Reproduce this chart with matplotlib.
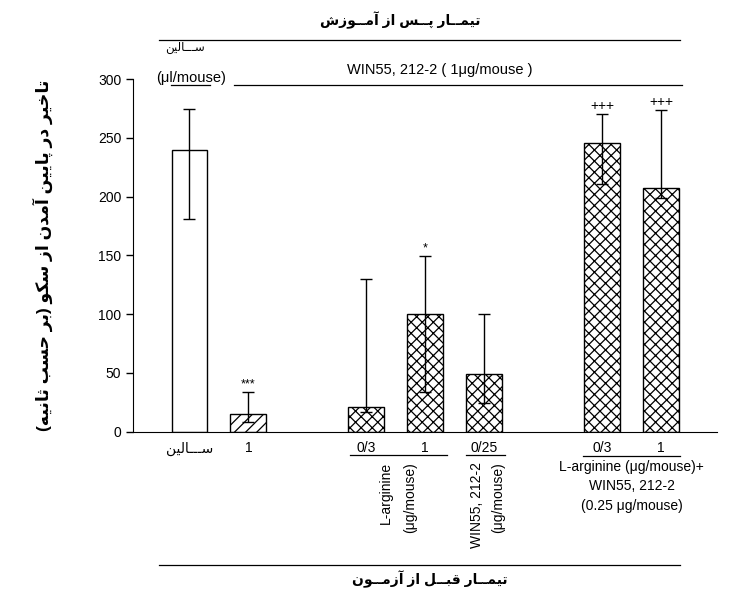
import matplotlib
matplotlib.use("Agg")
import matplotlib.pyplot as plt
import numpy as np

plt.rcParams['font.family'] = ['Liberation Sans', 'DejaVu Sans']
plt.rcParams['hatch.linewidth'] = 0.9

# Arabic-script presentation forms: isolated, final, initial, medial
FORMS = {
    '\u0627': ('\uFE8D', '\uFE8E'),
    '\u0622': ('\uFE81', '\uFE82'),
    '\u0628': ('\uFE8F', '\uFE90', '\uFE91', '\uFE92'),
    '\u067E': ('\uFB56', '\uFB57', '\uFB58', '\uFB59'),
    '\u062A': ('\uFE95', '\uFE96', '\uFE97', '\uFE98'),
    '\u062B': ('\uFE99', '\uFE9A', '\uFE9B', '\uFE9C'),
    '\u062D': ('\uFEA1', '\uFEA2', '\uFEA3', '\uFEA4'),
    '\u062E': ('\uFEA5', '\uFEA6', '\uFEA7', '\uFEA8'),
    '\u062F': ('\uFEA9', '\uFEAA'),
    '\u0631': ('\uFEAD', '\uFEAE'),
    '\u0632': ('\uFEAF', '\uFEB0'),
    '\u0633': ('\uFEB1', '\uFEB2', '\uFEB3', '\uFEB4'),
    '\u0634': ('\uFEB5', '\uFEB6', '\uFEB7', '\uFEB8'),
    '\u0642': ('\uFED5', '\uFED6', '\uFED7', '\uFED8'),
    '\u06A9': ('\uFB8E', '\uFB8F', '\uFB90', '\uFB91'),
    '\u0644': ('\uFEDD', '\uFEDE', '\uFEDF', '\uFEE0'),
    '\u0645': ('\uFEE1', '\uFEE2', '\uFEE3', '\uFEE4'),
    '\u0646': ('\uFEE5', '\uFEE6', '\uFEE7', '\uFEE8'),
    '\u0647': ('\uFEE9', '\uFEEA', '\uFEEB', '\uFEEC'),
    '\u0648': ('\uFEED', '\uFEEE'),
    '\u06CC': ('\uFBFC', '\uFBFD', '\uFBFE', '\uFBFF'),
    '\u0640': ('\u0640', '\u0640', '\u0640', '\u0640'),
}


def fa(text):
    # join letters and put them in visual (left-to-right) order
    out = []
    for i, c in enumerate(text):
        if c not in FORMS:
            out.append(c)
            continue
        prev = text[i - 1] if i > 0 else None
        nxt = text[i + 1] if i + 1 < len(text) else None
        jp = prev in FORMS and len(FORMS[prev]) == 4
        jn = len(FORMS[c]) == 4 and nxt in FORMS
        f = FORMS[c]
        if jp and jn:
            out.append(f[3])
        elif jp:
            out.append(f[1])
        elif jn:
            out.append(f[2])
        else:
            out.append(f[0])
    s = ''.join(reversed(out))
    return s.replace('(', '\0').replace(')', '(').replace('\0', ')')


title_top = "تیمــار پــس از آمــوزش"
title_bottom = "تیمــار قبــل از آزمــون"
saline = "ســـالین"
ylabel = "تاخیر در پایین آمدن از سکو (بر حسب ثانیه)"

positions = [1, 2, 4, 5, 6, 8, 9]
tick_labels = [fa(saline), '1', '0/3', '1', '0/25', '0/3', '1']
means = [240, 15, 21, 100, 49, 246, 207]
err_top = [274.5, 34, 130, 149.5, 100, 270, 273.5]
err_bottom = [181, 8, 17, 33.5, 24.7, 210.5, 198.5]
hatches = ['', '///', 'xxx', 'xxx', 'xxx', 'xxx', 'xxx']
signif = ['', '***', '', '*', '', '+++', '+++']
signif_size = [9, 9, 9, 9, 9, 10, 10]

means = np.array(means)
yerr = [means - np.array(err_bottom), np.array(err_top) - means]

fig = plt.figure(figsize=(7.4, 5.91), dpi=100)
ax = fig.add_axes([0.1797, 0.2695, 0.7892, 0.5968])

ax.bar(positions, means, width=0.61, color='white', edgecolor='black',
       linewidth=1.0, hatch=hatches, zorder=2)
ax.errorbar(positions, means, yerr=yerr, fmt='none', ecolor='black',
            elinewidth=1.0, capsize=4.3, capthick=1.0, zorder=3)
for x, top, s, fs in zip(positions, err_top, signif, signif_size):
    if s:
        ax.annotate(s, (x, top), xytext=(0, 1), textcoords='offset points',
                    ha='center', va='bottom', fontsize=fs)

ax.set_xlim(0.041, 9.95)
ax.set_ylim(0, 300)
ax.set_yticks([0, 50, 100, 150, 200, 250, 300])
ax.tick_params(axis='y', labelsize=10, length=5, width=1)
ax.set_xticks(positions, tick_labels)
ax.tick_params(axis='x', length=0, pad=7, labelsize=10)
ax.spines['top'].set_visible(False)
ax.spines['right'].set_visible(False)
ax.set_ylabel(fa(ylabel), fontsize=12.4, fontweight='bold', labelpad=32)

kw = dict(color='black', lw=0.9, clip_on=False)
# treatments after training (top)
ax.text(4.57, 350, fa(title_top), ha='center', va='center', fontsize=10,
        fontweight='bold')
ax.plot([0.48, 9.32], [333, 333], **kw)
ax.text(0.92, 326.5, fa(saline), ha='center', va='center', fontsize=8.5)
ax.text(1.02, 301, '(μl/mouse)', ha='center', va='center', fontsize=10.5)
ax.plot([0.69, 1.35], [295, 295], **kw)
ax.text(5.25, 307.5, 'WIN55, 212-2 ( 1μg/mouse )', ha='center', va='center',
        fontsize=10.5)
ax.plot([1.75, 9.36], [295, 295], **kw)

# treatments before test (bottom)
ax.plot([3.72, 5.37], [-20, -20], **kw)
ax.plot([5.69, 6.35], [-20, -20], **kw)
ax.plot([7.68, 9.32], [-21, -21], **kw)
ax.text(4.34, -26, 'L-arginine', rotation=90, ha='center', va='top', fontsize=10)
ax.text(4.75, -26, '(μg/mouse)', rotation=90, ha='center', va='top', fontsize=10)
ax.text(5.88, -26, 'WIN55, 212-2', rotation=90, ha='center', va='top', fontsize=10)
ax.text(6.24, -26, '(μg/mouse)', rotation=90, ha='center', va='top', fontsize=10)
ax.text(8.50, -30, 'L-arginine (μg/mouse)+', ha='center', va='center', fontsize=10)
ax.text(8.50, -46.5, 'WIN55, 212-2', ha='center', va='center', fontsize=10)
ax.text(8.50, -63.5, '(0.25 μg/mouse)', ha='center', va='center', fontsize=10)
ax.plot([0.48, 9.32], [-113.5, -113.5], **kw)
ax.text(5.08, -125.5, fa(title_bottom), ha='center', va='center', fontsize=10,
        fontweight='bold')

fig.savefig('out.png', dpi=100)
